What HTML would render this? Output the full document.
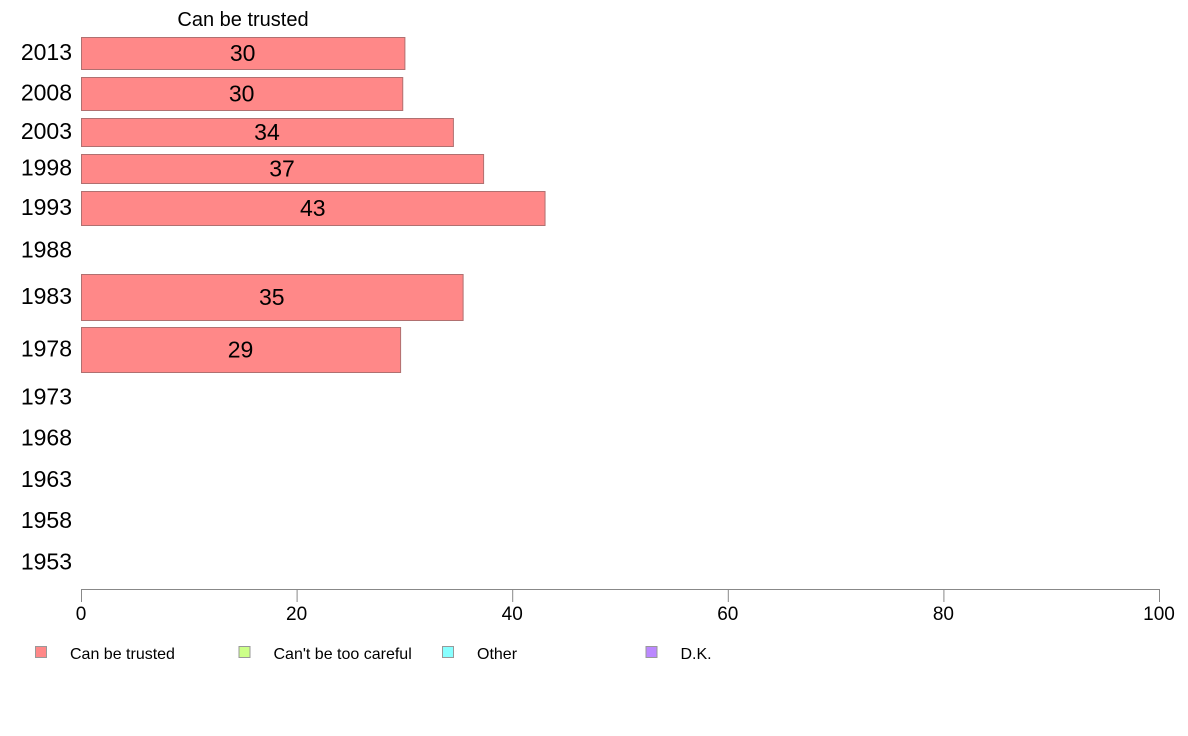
<!DOCTYPE html>
<html><head><meta charset="utf-8">
<style>
html,body{margin:0;padding:0;background:#fff;}
svg{display:block;font-family:"Liberation Sans",Arial,sans-serif;}
</style></head>
<body>
<svg id="chart" width="1188" height="736" viewBox="0 0 1188 736" xmlns="http://www.w3.org/2000/svg">
<text x="243" y="26" font-size="20" text-anchor="middle" fill="#000">Can be trusted</text>
<g id="bars"></g>
<g id="ylabels"></g>
<g id="xaxis"></g>
<g id="legend"></g>
</svg>
<script>
const years = ["2013","2008","2003","1998","1993","1988","1983","1978","1973","1968","1963","1958","1953"];
const values = [30, 29.8, 34.5, 37.3, 43.0, null, 35.4, 29.6, null, null, null, null, null];
const valueLabels = ["30","30","34","37","43","","35","29","","","","",""];
const xTicks = [0, 20, 40, 60, 80, 100];
const legendLabels = ["Can be trusted","Can't be too careful","Other","D.K."];
const legendColors = ["#ff8888","#ccff88","#88ffff","#bb88ff"];

// layout (row bands, pixels)
const bandTop = [37, 77, 118, 154, 191, 233, 274, 327, 379, 420, 462, 503, 545];
const bandBot = [69, 110, 146, 183, 225, 268, 320, 372, 416, 457, 498, 539, 580];

const NS = "http://www.w3.org/2000/svg";
const x0 = 81, x1 = 1159;
const xScale = v => x0 + (v / 100) * (x1 - x0);
function mk(tag, attrs, parent, txt){
  const e = document.createElementNS(NS, tag);
  for (const k in attrs) e.setAttribute(k, attrs[k]);
  if (txt !== undefined) e.textContent = txt;
  parent.appendChild(e); return e;
}
const gb = document.getElementById("bars");
const gy = document.getElementById("ylabels");
const gx = document.getElementById("xaxis");
const gl = document.getElementById("legend");

years.forEach((yr, i) => {
  const cy = (bandTop[i] + bandBot[i]) / 2;
  const t = mk("text", {x: 72, y: cy + 7, "font-size": 23, "text-anchor": "end", fill: "#000"}, gy, yr);
  
  
  const v = values[i];
  if (v !== null) {
    const r = mk("rect", {x: x0 + 0.5, y: bandTop[i] + 0.5, width: xScale(v) - x0, height: bandBot[i] - bandTop[i], fill: "#ff8888", stroke: "#b07070", "stroke-width": 1}, gb);
    
    
    const lt = mk("text", {x: (x0 + xScale(v)) / 2, y: cy + 8, "font-size": 23, "text-anchor": "middle", fill: "#000"}, gb, valueLabels[i]);
    
    
  }
});

const axl = mk("line", {x1: x0, y1: 589.5, x2: x1, y2: 589.5, stroke: "#888", "stroke-width": 1}, gx);


xTicks.forEach(v => {
  const tk = mk("line", {x1: xScale(v) + 0.5, y1: 589, x2: xScale(v) + 0.5, y2: 602, stroke: "#888", "stroke-width": 1}, gx);
  
  
  const tl = mk("text", {x: xScale(v), y: 620, "font-size": 19, "text-anchor": "middle", fill: "#000"}, gx, String(v));
  
  
});

legendLabels.forEach((lab, i) => {
  const lx = 35 + i * 203.5;
  const sq = mk("rect", {x: lx + 0.5, y: 646.5, width: 11, height: 11, fill: legendColors[i], stroke: "#999", "stroke-width": 1}, gl);
  
  
  const lt = mk("text", {x: lx + 35, y: 659, "font-size": 16, fill: "#000"}, gl, lab);
  
  
});
</script>
</body></html>
